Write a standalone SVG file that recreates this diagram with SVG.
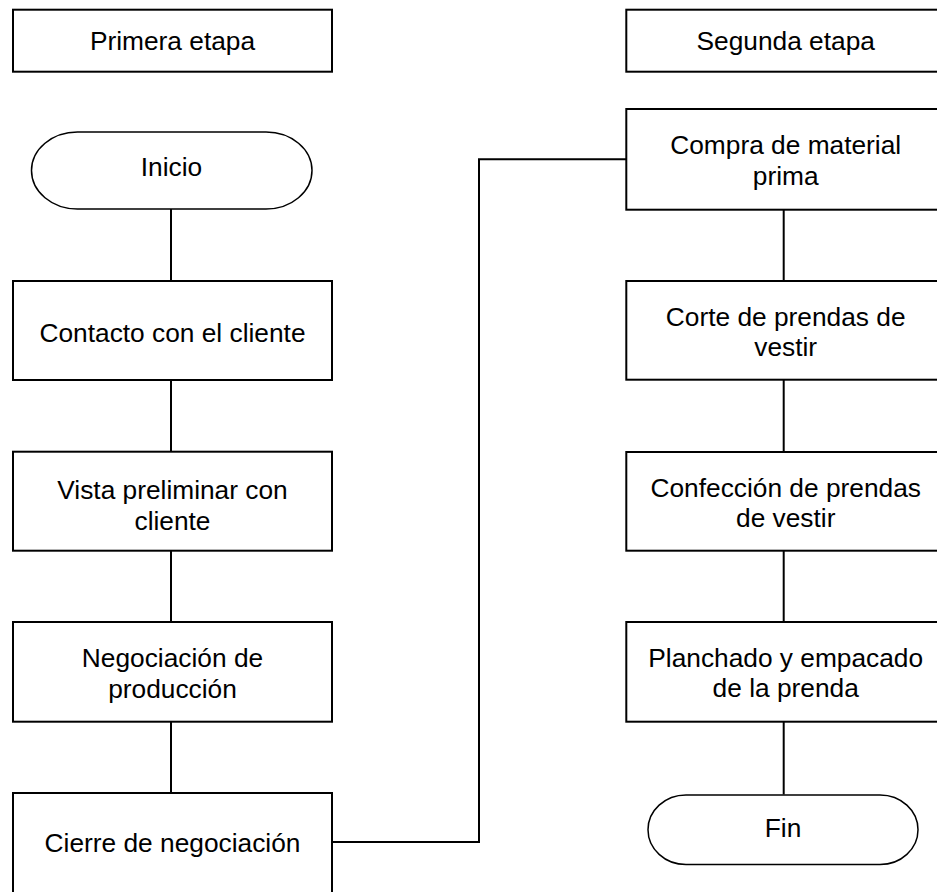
<svg xmlns="http://www.w3.org/2000/svg" width="937" height="892" viewBox="0 0 937 892">
<style>
.box{fill:#fff;stroke:#000;stroke-width:2}
.term{fill:#fff;stroke:#000;stroke-width:1.5}
.lbl{font-family:"Liberation Sans",Arial,sans-serif;font-size:26.3px;fill:#000;text-anchor:middle}
.con{fill:none;stroke:#000;stroke-width:2}
</style>
<rect width="937" height="892" fill="#fff"/>
<g id="connectors">
<line class="con" x1="171" y1="209" x2="171" y2="281"/>
<line class="con" x1="171" y1="380" x2="171" y2="452"/>
<line class="con" x1="171" y1="551" x2="171" y2="622"/>
<line class="con" x1="171" y1="722" x2="171" y2="793"/>
<polyline class="con" points="332,842 479,842 479,159.3 626,159.3"/>
<line class="con" x1="783.7" y1="210" x2="783.7" y2="281"/>
<line class="con" x1="783.7" y1="380" x2="783.7" y2="452"/>
<line class="con" x1="783.7" y1="551" x2="783.7" y2="622"/>
<line class="con" x1="783.7" y1="722" x2="783.7" y2="794.5"/>
</g>
<g id="primera-etapa">
<rect class="box" x="13" y="9.7" width="319" height="62"/>
<text class="lbl" x="172.5" y="50">Primera etapa</text>
</g>
<g id="inicio">
<rect class="term" x="31.5" y="132" width="280.5" height="77" rx="46" ry="38.5"/>
<text class="lbl" x="171.5" y="176">Inicio</text>
</g>
<g id="contacto">
<rect class="box" x="13" y="281" width="319" height="99"/>
<text class="lbl" x="172.5" y="341.7">Contacto con el cliente</text>
</g>
<g id="vista">
<rect class="box" x="13" y="451.7" width="319" height="99"/>
<text class="lbl" x="172.5" y="499"><tspan x="172.5">Vista preliminar con</tspan><tspan x="172.5" dy="30.7">cliente</tspan></text>
</g>
<g id="negociacion">
<rect class="box" x="13" y="622" width="319" height="99.7"/>
<text class="lbl" x="172.5" y="667.3"><tspan x="172.5">Negociación de</tspan><tspan x="172.5" dy="30.5">producción</tspan></text>
</g>
<g id="cierre">
<rect class="box" x="13" y="793" width="319" height="120"/>
<text class="lbl" x="172.5" y="851.7">Cierre de negociación</text>
</g>
<g id="segunda-etapa">
<rect class="box" x="626.3" y="9.7" width="320" height="62"/>
<text class="lbl" x="785.7" y="50">Segunda etapa</text>
</g>
<g id="compra">
<rect class="box" x="626.3" y="109" width="320" height="100.7"/>
<text class="lbl" x="785.7" y="154.3"><tspan x="785.7">Compra de material</tspan><tspan x="785.7" dy="30.7">prima</tspan></text>
</g>
<g id="corte">
<rect class="box" x="626.3" y="281" width="320" height="98.7"/>
<text class="lbl" x="785.7" y="325.5"><tspan x="785.7">Corte de prendas de</tspan><tspan x="785.7" dy="30.5">vestir</tspan></text>
</g>
<g id="confeccion">
<rect class="box" x="626.3" y="452" width="320" height="98.7"/>
<text class="lbl" x="785.7" y="496.7"><tspan x="785.7">Confección de prendas</tspan><tspan x="785.7" dy="30.3">de vestir</tspan></text>
</g>
<g id="planchado">
<rect class="box" x="626.3" y="622" width="320" height="99.7"/>
<text class="lbl" x="785.7" y="666.7"><tspan x="785.7">Planchado y empacado</tspan><tspan x="785.7" dy="30.3">de la prenda</tspan></text>
</g>
<g id="fin">
<rect class="term" x="648" y="795" width="270" height="69.5" rx="38" ry="34.75"/>
<text class="lbl" x="783" y="836.7">Fin</text>
</g>
</svg>
